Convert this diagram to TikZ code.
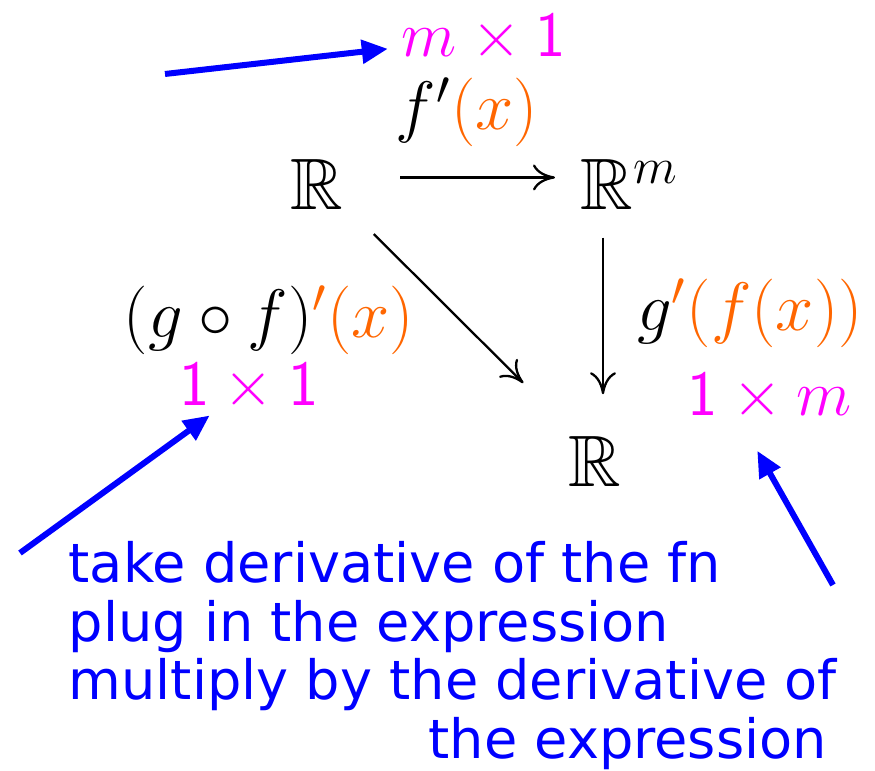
\RequirePackage{fix-cm}
\documentclass[tikz,border=0pt]{standalone}
\usepackage{amsmath,amssymb}
\usepackage{fontspec}
\newfontfamily\notefont{DejaVu Sans}
\usepackage{xcolor}
\definecolor{dimpink}{RGB}{255, 0, 255}
\definecolor{evalorange}{RGB}{255, 102, 0}
\definecolor{noteblue}{RGB}{0, 0, 255}
\usepackage{tikz}
\usetikzlibrary{calc,arrows.meta}

\begin{document}
\begin{tikzpicture}[x=0.01cm, y=-0.01cm,
    >={Computer Modern Rightarrow[length=0.22cm,width=0.26cm]},
    obj/.style={inner sep=0pt, font=\fontsize{20.7}{24}\selectfont, text height=0.65cm, text depth=0pt},
    lbl/.style={inner sep=1pt, font=\fontsize{19.5}{23}\selectfont},
    dims/.style={inner sep=1pt, font=\fontsize{18.3}{22}\selectfont, text=dimpink},
    map/.style={->, line width=0.65pt},
    note/.style={-{Triangle[length=0.26cm,width=0.23cm]}, line width=0.06cm, noteblue}]
    \useasboundingbox (0,0) rectangle (875,771);

    % Spaces
    \node[obj, anchor=base] (R1) at (317,210) {$\mathbb{R}$};
    \node[obj, anchor=base west] (Rm) at (580,210) {$\mathbb{R}^m$};
    \node[obj, anchor=base] (R3) at (595,487) {$\mathbb{R}$};

    % Maps
    \draw[map, shorten <=0.56cm, shorten >=0.25cm] (R1) -- (Rm);
    \draw[map] ($(Rm.south west)+(23,27)$) -- ($(Rm.south west |- R3.north)+(23,-27)$);
    \draw[map, shorten <=0.42cm, shorten >=0.63cm] (R1) -- (R3);

    % Derivatives and their sizes
    \node[lbl] (df) at (467,112) {$f'\textcolor{evalorange}{(x)}$};
    \node[dims] (szf) at (484,38) {$m\times\mathsf{1}$};
    \node[lbl] (dgf) at (269,320) {$(g\circ f)^{\color{evalorange}\prime}\textcolor{evalorange}{(x)}$};
    \node[dims] (szgf) at (249,387) {$\mathsf{1}\times\mathsf{1}$};
    \node[lbl] (dg) at (750,313) {$g^{\color{evalorange}\prime}\textcolor{evalorange}{(f(x))}$};
    \node[dims] (szg) at (770,397) {$\mathsf{1}\times m$};

    % Recipe
    \node[anchor=north west, inner sep=0pt, text=noteblue, font=\notefont\fontsize{15.4}{16.5}\selectfont] (recipe) at (68,541)
        {\begin{tabular}{@{}l@{}}
            take derivative of the fn\\
            plug in the expression\\
            multiply by the derivative of\\
            \hfill the expression\hspace*{0.1cm}
        \end{tabular}};

    % Pointers
    \coordinate (tailf) at (165,74);
    \coordinate (tailgf) at (20,553);
    \coordinate (tailg) at (833,585);
    \draw[note, shorten >=0.1cm] (tailf) -- (szf);
    \draw[note] (tailgf) -- (szgf);
    \draw[note, shorten >=0.29cm] (tailg) -- ($(szg.south)+(-27,0)$);
\end{tikzpicture}
\end{document}
